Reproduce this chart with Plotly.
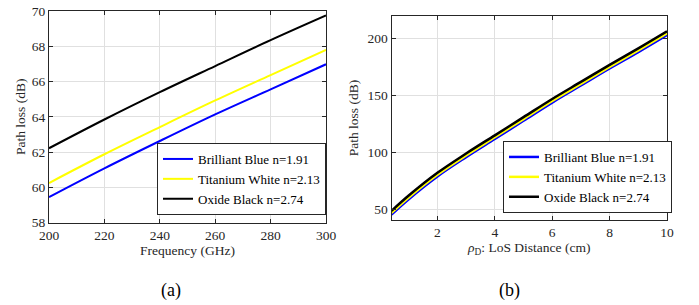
import plotly.graph_objects as go

W, H = 699, 305

# ---- data (a) ----
freq = [200, 220, 240, 260, 280, 300]
pl_blue_a = [59.45, 61.08, 62.63, 64.14, 65.56, 66.98]
pl_yellow_a = [60.25, 61.88, 63.42, 64.93, 66.37, 67.80]
pl_black_a = [62.22, 63.85, 65.40, 66.88, 68.35, 69.75]

# ---- data (b) ----
dist = [0.4, 1, 2, 3, 4, 5, 6, 7, 8, 9, 10]
pl_black_b = [48.5, 62, 82, 99, 115, 131, 147, 162, 177, 191.5, 206.5]
pl_yellow_b = [46.8, 60.3, 80.3, 97.3, 113.3, 129.3, 145.3, 160.3, 175.3, 189.8, 204.8]
pl_blue_b = [45.3, 58.8, 78.8, 95.8, 111.8, 127.8, 143.8, 158.8, 173.8, 188.2, 203.2]

names = ["Brilliant Blue n=1.91", "Titanium White n=2.13", "Oxide Black n=2.74"]
colors = ["#0000FF", "#FFFF00", "#000000"]

FONT = "Liberation Serif"
TXT = "#262626"
FS = 13.5

fig = go.Figure()
for name, col, ys in zip(names, colors, [pl_blue_a, pl_yellow_a, pl_black_a]):
    fig.add_trace(go.Scatter(x=freq, y=ys, mode="lines", name=name,
                             line=dict(color=col, width=2, shape="spline"),
                             xaxis="x", yaxis="y", legend="legend"))
for name, col, ys in zip(names, colors, [pl_blue_b, pl_yellow_b, pl_black_b]):
    fig.add_trace(go.Scatter(x=dist, y=ys, mode="lines", name=name,
                             line=dict(color=col, width=2.5, shape="spline"),
                             xaxis="x2", yaxis="y2", legend="legend2"))

def px_x(p):
    return p / W

def px_y(p):
    return 1 - p / H

axis_common = dict(showline=True, linecolor=TXT, linewidth=1, mirror="ticks",
                   ticks="inside", ticklen=4, tickcolor=TXT,
                   showgrid=True, gridcolor="#e0e0e0", gridwidth=1,
                   zeroline=False, automargin=False,
                   tickfont=dict(family=FONT, size=FS, color=TXT),
                   title_font=dict(family=FONT, size=FS, color=TXT))

legend_common = dict(xanchor="left", yanchor="bottom",
                     bgcolor="white", bordercolor=TXT, borderwidth=1,
                     font=dict(family=FONT, size=13, color="#000000"),
                     tracegroupgap=0, itemwidth=30)

fig.update_layout(
    template="none",
    width=W, height=H,
    margin=dict(l=0, r=0, t=0, b=0, autoexpand=False),
    paper_bgcolor="white", plot_bgcolor="white",
    font=dict(family=FONT, size=FS, color=TXT),
    xaxis=dict(domain=[px_x(49), px_x(326)], range=[200, 300], tickvals=[200, 220, 240, 260, 280, 300],
               anchor="y", title=dict(text="Frequency (GHz)", standoff=3), **axis_common),
    yaxis=dict(domain=[px_y(222.7), px_y(11)], range=[58, 70], tickvals=[58, 60, 62, 64, 66, 68, 70],
               anchor="x", title=dict(text="Path loss (dB)", standoff=3), **axis_common),
    xaxis2=dict(domain=[px_x(391.5), px_x(667)], range=[0.4, 10], tickvals=[2, 4, 6, 8, 10],
                anchor="y2", title=dict(text="<i>ρ</i><sub>D</sub>: LoS Distance (cm)", standoff=3), **axis_common),
    yaxis2=dict(domain=[px_y(220), px_y(16)], range=[40.5, 220], tickvals=[50, 100, 150, 200],
                anchor="x2", title=dict(text="Path loss (dB)", standoff=5), **axis_common),
    legend=dict(x=px_x(157), y=px_y(215), **legend_common),
    legend2=dict(x=px_x(503), y=px_y(213), **legend_common),
    showlegend=True,
)

fig.add_annotation(text="(a)", x=px_x(171), y=px_y(290), xref="paper", yref="paper",
                   showarrow=False, font=dict(family=FONT, size=18, color="#000000"),
                   xanchor="center", yanchor="middle")
fig.add_annotation(text="(b)", x=px_x(509), y=px_y(290), xref="paper", yref="paper",
                   showarrow=False, font=dict(family=FONT, size=18, color="#000000"),
                   xanchor="center", yanchor="middle")

fig.write_html("out.html", config={"displayModeBar": False},
               post_script="document.body.style.margin='0';document.body.style.padding='0';")
